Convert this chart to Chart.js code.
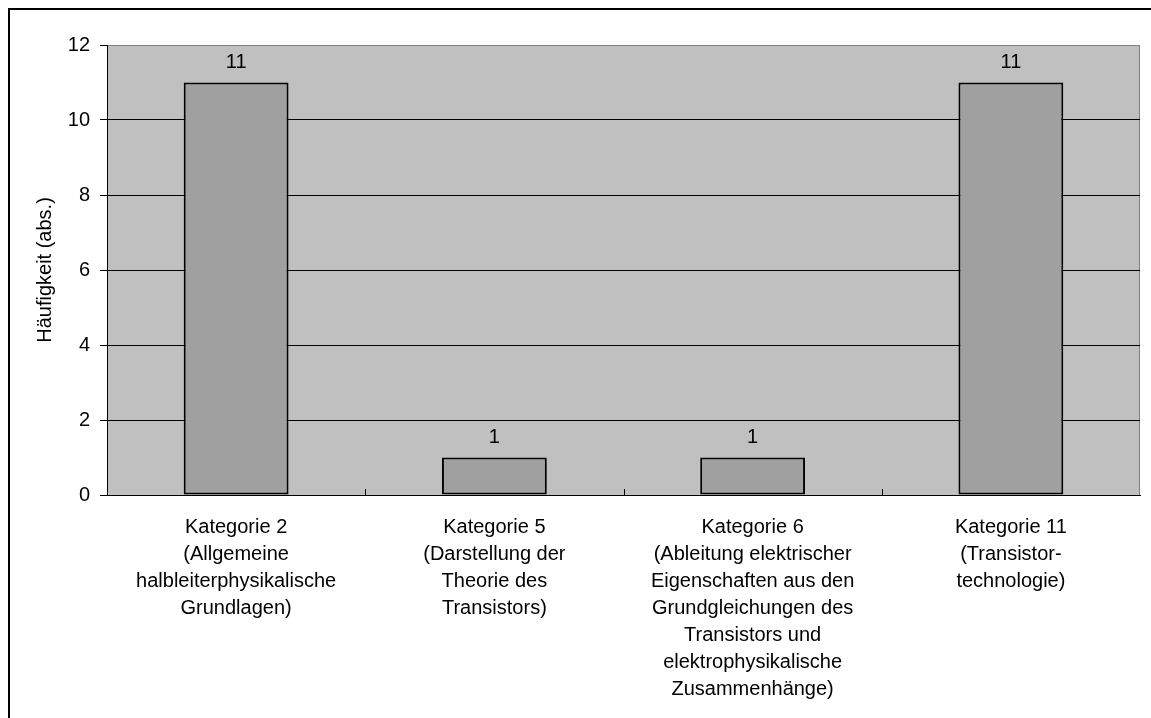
<!DOCTYPE html>
<html>
<head>
<meta charset="utf-8">
<script src="https://cdn.jsdelivr.net/npm/chart.js@4/dist/chart.umd.min.js"></script>
<style>
  html, body { margin: 0; padding: 0; background: #fff; overflow: hidden; }
  #frame { position: absolute; left: 8px; top: 8px; width: 1200px; height: 800px; border: 2px solid #000; }
  #wrap { position: absolute; left: 0; top: 0; width: 1151px; height: 718px; }
</style>
</head>
<body>
<div id="frame"></div>
<div id="wrap"><canvas id="chart" width="1151" height="718"></canvas></div>
<script>
const categories = [
  ["Kategorie 2", "(Allgemeine", "halbleiterphysikalische", "Grundlagen)"],
  ["Kategorie 5", "(Darstellung der", "Theorie des", "Transistors)"],
  ["Kategorie 6", "(Ableitung elektrischer", "Eigenschaften aus den", "Grundgleichungen des", "Transistors und", "elektrophysikalische", "Zusammenhänge)"],
  ["Kategorie 11", "(Transistor-", "technologie)"],
];
const counts = [11, 1, 1, 11];
const yTitle = "Häufigkeit (abs.)";

const FONT = "'Liberation Sans', Arial, sans-serif";

// grey plot area + border
const plotArea = {
  id: "plotArea",
  beforeDraw(chart) {
    const { ctx, chartArea: a } = chart;
    ctx.save();
    ctx.fillStyle = "#c0c0c0";
    ctx.fillRect(a.left, a.top, a.right - a.left, a.bottom - a.top);
    ctx.strokeStyle = "#808080";
    ctx.lineWidth = 1;
    ctx.strokeRect(a.left + 0.5, a.top + 0.5, a.right - a.left - 1, a.bottom - a.top);
    ctx.restore();
  },
  afterDraw(chart) {
    // small inward ticks between the categories
    const { ctx, chartArea: a } = chart;
    const x = chart.scales.x;
    ctx.save();
    ctx.strokeStyle = "#000";
    ctx.lineWidth = 1;
    for (let i = 0; i < counts.length - 1; i++) {
      const px = Math.round((x.getPixelForValue(i) + x.getPixelForValue(i + 1)) / 2) + 0.5;
      ctx.beginPath();
      ctx.moveTo(px, a.bottom);
      ctx.lineTo(px, a.bottom - 6);
      ctx.stroke();
    }
    ctx.restore();
  },
};

// value labels above bars
const valueLabels = {
  id: "valueLabels",
  afterDatasetsDraw(chart) {
    const { ctx } = chart;
    const meta = chart.getDatasetMeta(0);
    ctx.save();
    ctx.font = "20px " + FONT;
    ctx.fillStyle = "#000";
    ctx.textAlign = "center";
    ctx.textBaseline = "alphabetic";
    meta.data.forEach((bar, i) => {
      ctx.fillText(String(counts[i]), bar.x, bar.y - 15);
    });
    ctx.restore();
  },
};

new Chart(document.getElementById("chart"), {
  type: "bar",
  data: {
    labels: categories,
    datasets: [
      {
        data: counts,
        backgroundColor: "#a0a0a0",
        borderColor: "#000",
        borderWidth: 2,
        borderSkipped: false,
        categoryPercentage: 1,
        barPercentage: 0.406,
      },
    ],
  },
  options: {
    responsive: false,
    animation: false,
    devicePixelRatio: 1,
    layout: { padding: { left: 0, right: 11, top: 45, bottom: 0 } },
    plugins: {
      legend: { display: false },
      tooltip: { enabled: false },
    },
    scales: {
      y: {
        min: 0,
        max: 12,
        ticks: {
          stepSize: 2,
          color: "#000",
          padding: 10,
          font: { family: FONT, size: 20 },
        },
        grid: {
          color: (c) => (c.tick && c.tick.value === 12 ? "#808080" : "#000"),
          tickColor: "#000",
          tickLength: 7,
          lineWidth: 1,
        },
        border: { color: "#000", width: 1 },
        title: {
          display: true,
          text: yTitle,
          color: "#000",
          font: { family: FONT, size: 20 },
          padding: { top: 33, bottom: 0 },
        },
        afterFit(scale) {
          scale.width = 107;
        },
      },
      x: {
        ticks: {
          color: "#000",
          autoSkip: false,
          maxRotation: 0,
          padding: 19,
          font: { family: FONT, size: 20, lineHeight: 1.35 },
        },
        grid: { display: true, drawOnChartArea: false, drawTicks: false },
        border: { color: "#000", width: 1 },
        afterFit(scale) {
          scale.height = 223;
        },
      },
    },
  },
  plugins: [plotArea, valueLabels],
});
</script>
</body>
</html>
